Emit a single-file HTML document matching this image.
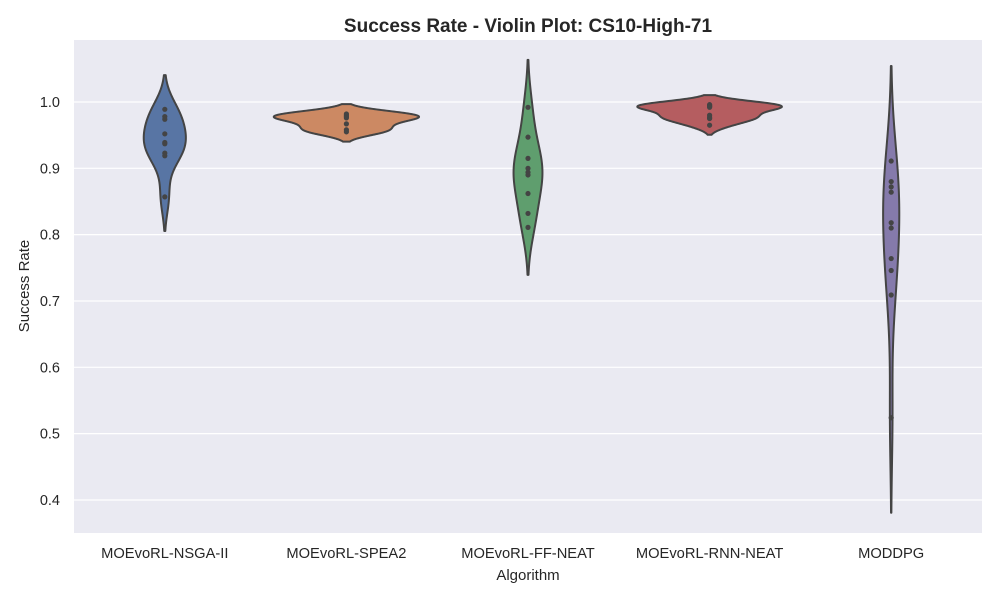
<!DOCTYPE html>
<html><head><meta charset="utf-8"><style>
body{margin:0;background:#fff;font-family:"Liberation Sans","DejaVu Sans",sans-serif;}
svg text{font-family:"Liberation Sans","DejaVu Sans",sans-serif;fill:#262626;}
</style></head><body>
<svg id="chart" width="1000" height="600">
<rect x="74" y="40" width="908" height="493" fill="#eaeaf2"/>
<g id="grid"></g><g id="violins"></g><g id="yticks"></g><g id="xticks"></g>
<text x="528" y="32" text-anchor="middle" font-size="19" font-weight="bold">Success Rate - Violin Plot: CS10-High-71</text>
<text x="528" y="580" text-anchor="middle" font-size="15">Algorithm</text>
<text transform="translate(29,286) rotate(-90)" text-anchor="middle" font-size="15">Success Rate</text>
</svg>
<script>
const categories=["MOEvoRL-NSGA-II","MOEvoRL-SPEA2","MOEvoRL-FF-NEAT","MOEvoRL-RNN-NEAT","MODDPG"];
const nsga=[0.989,0.978,0.974,0.952,0.939,0.937,0.923,0.919,0.857];
const spea=[0.982,0.980,0.978,0.976,0.967,0.958,0.955];
const ffneat=[0.992,0.947,0.915,0.900,0.894,0.890,0.862,0.832,0.811];
const rnn=[0.996,0.995,0.994,0.993,0.992,0.980,0.977,0.975,0.965];
const moddpg=[0.911,0.880,0.872,0.864,0.818,0.810,0.764,0.746,0.709,0.524];
const yTicks=[0.4,0.5,0.6,0.7,0.8,0.9,1.0];
const colors=["#5875a4","#cc8963","#5f9e6e","#b55d60","#857aab"];
const series=[nsga,spea,ffneat,rnn,moddpg];
const NS="http://www.w3.org/2000/svg";
const X0=74,X1=982,Y0=40,Y1=533;
function yS(v){return 102+(1-v)*663.3;}
function xS(i){const w=(X1-X0)/categories.length;return X0+w*(i+0.5);}
function mk(t,a,p){const e=document.createElementNS(NS,t);for(const k in a)e.setAttribute(k,a[k]);p.appendChild(e);return e;}
const grid=document.getElementById('grid'),yt=document.getElementById('yticks'),xt=document.getElementById('xticks'),vg=document.getElementById('violins');
yTicks.forEach(v=>{
 const l=mk('line',{x1:X0,x2:X1,y1:yS(v),y2:yS(v),stroke:'#fff','stroke-width':1.2},grid);
 
 
 const t=mk('text',{x:X0-14,y:yS(v)+5,'text-anchor':'end','font-size':14.5},yt);
 t.textContent=v.toFixed(1);
 
 
});
categories.forEach((c,i)=>{
 const t=mk('text',{x:xS(i),y:558,'text-anchor':'middle','font-size':14.7},xt);
 t.textContent=c;
 
 
});
function kde(d){
 const n=d.length,m=d.reduce((a,b)=>a+b,0)/n;
 const sd=Math.sqrt(d.reduce((a,b)=>a+(b-m)*(b-m),0)/(n-1));
 const bw=sd*Math.pow(n,-0.2);
 const lo=Math.min(...d)-2*bw,hi=Math.max(...d)+2*bw,pts=[];
 for(let k=0;k<=120;k++){const y=lo+(hi-lo)*k/120;let s=0;d.forEach(x=>{const z=(y-x)/bw;s+=Math.exp(-0.5*z*z);});pts.push([y,s/(n*bw*Math.sqrt(2*Math.PI))]);}
 return pts;
}
const dens=series.map(kde);
const gmax=Math.max(...dens.map(p=>Math.max(...p.map(q=>q[1]))));
const half=(X1-X0)/categories.length*0.8/2;
series.forEach((d,i)=>{
 const cx=xS(i),p=dens[i];
 let path=p.map((q,k)=>(k?'L':'M')+(cx+q[1]/gmax*half).toFixed(2)+','+yS(q[0]).toFixed(2)).join('');
 path+=p.slice().reverse().map(q=>'L'+(cx-q[1]/gmax*half).toFixed(2)+','+yS(q[0]).toFixed(2)).join('')+'Z';
 const v=mk('path',{d:path,fill:colors[i],stroke:'#444','stroke-width':2,'stroke-linejoin':'round'},vg);
 
 
 d.forEach(val=>{
  const c=mk('circle',{cx:cx,cy:yS(val),r:2.6,fill:'#444'},vg);
  
  
 });
});
</script>
</body></html>
